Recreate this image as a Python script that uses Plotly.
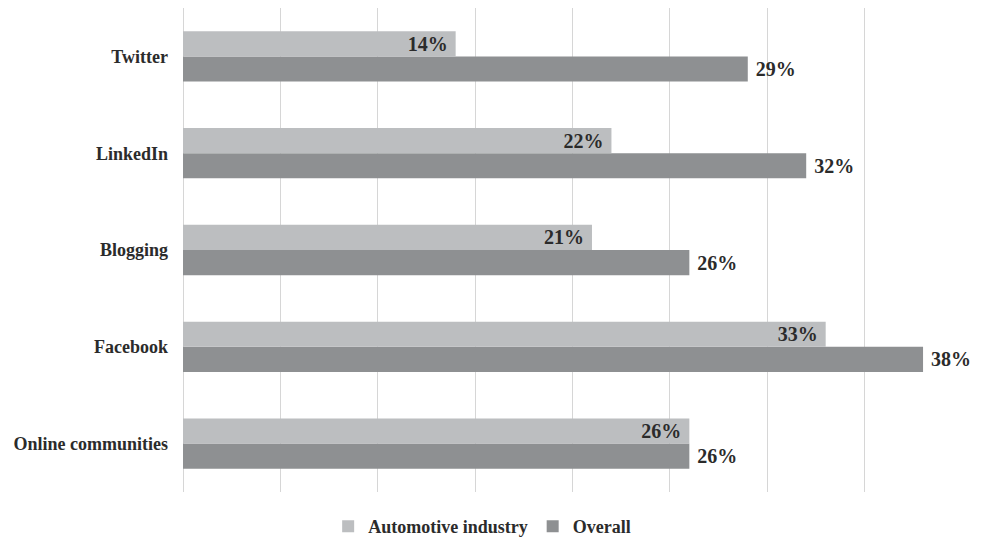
import plotly.graph_objects as go

categories = ["Online communities", "Facebook", "Blogging", "LinkedIn", "Twitter"]
automotive = [26, 33, 21, 22, 14]
overall = [26, 38, 26, 32, 29]

serif = "Liberation Serif, Times New Roman, serif"
NB = "\u00a0"
fig = go.Figure()
fig.add_trace(go.Bar(
    y=categories, x=overall, orientation="h", name="Overall",
    marker=dict(color="#8e9092", line=dict(width=0)),
    text=[f"{NB}{v}%" for v in overall], textposition="outside",
    textfont=dict(family=serif, size=20, color="#2b2b2b", weight="bold"),
    cliponaxis=False, legendrank=2,
))
fig.add_trace(go.Bar(
    y=categories, x=automotive, orientation="h", name="Automotive industry",
    marker=dict(color="#bcbec0", line=dict(width=0)),
    text=[f"{v}%{NB}" for v in automotive], textposition="inside",
    insidetextanchor="end", constraintext="none",
    textfont=dict(family=serif, size=20, color="#2b2b2b", weight="bold"),
    legendrank=1,
))
fig.update_layout(
    barmode="group", bargap=0.48, bargroupgap=0,
    width=984, height=545,
    margin=dict(l=183, r=22, t=8, b=53),
    paper_bgcolor="white", plot_bgcolor="white",
    font=dict(family=serif, color="#2b2b2b"),
    uniformtext=dict(mode=False),
    legend=dict(orientation="h", xref="container", yref="container",
                x=0.49, xanchor="center", y=0.0, yanchor="bottom",
                font=dict(family=serif, size=18, color="#2b2b2b", weight="bold"),
                itemwidth=30, traceorder="normal"),
    xaxis=dict(range=[0, 40], dtick=5, showticklabels=False, showgrid=True,
               gridcolor="#d6d6d6", gridwidth=1, zeroline=True,
               zerolinecolor="#d6d6d6", zerolinewidth=1, fixedrange=True),
    yaxis=dict(tickfont=dict(family=serif, size=18, color="#2b2b2b", weight="bold"),
               ticklabelstandoff=14, showgrid=False, ticks=""),
)
fig.write_html("out.html")
